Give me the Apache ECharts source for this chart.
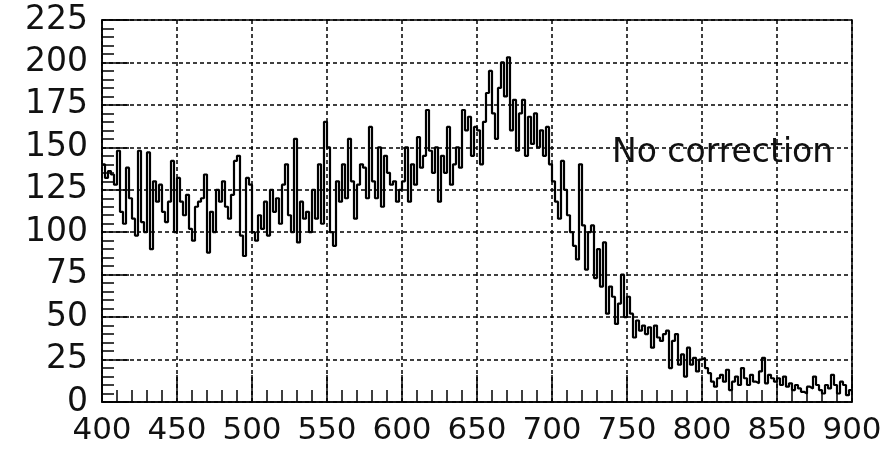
<!DOCTYPE html>
<html>
<head>
<meta charset="utf-8">
<script src="https://cdn.jsdelivr.net/npm/echarts@6/dist/echarts.min.js"></script>
<style>html,body{margin:0;padding:0;background:#fff}#c{width:888px;height:449px}</style>
</head>
<body>
<div id="c"></div>
<script>
// Histogram bins: start of each 2-unit bin from 400 to 898
const binWidth = 2;
const binStart = 400;
const counts = [
  // 400-448
  140,132,136,134,128,148,112,105,138,120,108,98,148,106,100,147,90,130,118,128,112,106,118,142,100,
  // 450-498
  132,118,110,122,102,95,115,118,120,134,88,112,100,125,118,130,115,108,122,142,145,98,86,132,128,
  // 500-548
  100,95,110,102,118,98,125,112,120,105,128,140,110,100,155,94,118,108,112,100,125,108,140,105,165,
  // 550-598
  150,100,92,130,118,140,120,155,130,108,128,140,138,120,162,130,120,150,115,145,135,128,130,118,125,
  // 600-648
  130,150,118,140,128,156,138,145,172,148,135,150,118,145,135,162,128,140,150,138,172,160,168,145,162,
  // 650-698
  160,140,165,182,195,170,155,185,200,180,203,160,178,148,170,178,145,168,152,170,150,160,145,162,140,
  // 700-748
  130,118,108,142,125,110,100,92,84,140,104,78,100,104,73,90,68,94,52,68,62,46,58,75,50,
  // 750-798
  62,52,38,48,42,45,40,44,32,45,38,36,40,42,20,36,40,22,28,15,32,22,26,18,25,
  // 800-848
  26,20,17,12,9,14,16,12,19,7,12,15,10,20,14,10,16,12,11,18,26,11,16,14,12,
  // 850-898
  14,10,15,9,11,7,10,8,6,5,9,8,15,10,7,5,10,8,16,10,5,12,10,4,7
];
const xTicks = [400,450,500,550,600,650,700,750,800,850,900];
const yTicks = [0,25,50,75,100,125,150,175,200,225];
const annotation = 'No correction';

const lineData = counts.map((v, i) => [binStart + i * binWidth, v]);
lineData.push([binStart + counts.length * binWidth, counts[counts.length - 1]]);

const chart = echarts.init(document.getElementById('c'), null, {renderer: 'canvas'});
const axisFont = 'DejaVu Sans';
chart.setOption({
  animation: false,
  backgroundColor: '#fff',
  grid: {left: 102, right: 36, top: 20, bottom: 47, show: true, borderColor: '#000', borderWidth: 1.5, backgroundColor: 'transparent'},
  xAxis: {
    type: 'value', min: xTicks[0], max: xTicks[xTicks.length - 1], interval: 50,
    axisLine: {show: true, lineStyle: {color: '#000', width: 1.5}},
    axisTick: {show: true, inside: true, length: 27, lineStyle: {color: '#000', width: 1.5}},
    minorTick: {show: true, splitNumber: 5, length: 12, lineStyle: {color: '#000', width: 1.5}},
    splitLine: {show: true, lineStyle: {color: '#000', width: 1.5, type: [4, 3]}},
    axisLabel: {color: '#111', fontFamily: axisFont, fontSize: 31, margin: 13,
      formatter: v => String(v)}
  },
  yAxis: {
    type: 'value', min: yTicks[0], max: yTicks[yTicks.length - 1], interval: 25,
    axisLine: {show: true, lineStyle: {color: '#000', width: 1.5}},
    axisTick: {show: true, inside: true, length: 27, lineStyle: {color: '#000', width: 1.5}},
    minorTick: {show: true, splitNumber: 5, length: 12, lineStyle: {color: '#000', width: 1.5}},
    splitLine: {show: true, lineStyle: {color: '#000', width: 1.5, type: [4, 3]}},
    axisLabel: {color: '#111', fontFamily: axisFont, fontSize: 33, margin: 14,
      formatter: v => String(v)}
  },
  series: [{
    type: 'line', step: 'end', data: lineData, showSymbol: false, symbol: 'none',
    lineStyle: {color: '#000', width: 2.2}, z: 5
  }],
  graphic: [{
    type: 'text', left: 612, top: 137, z: 10,
    style: {text: annotation, fill: '#111', font: '33px "DejaVu Sans"'}
  }]
});
</script>
</body>
</html>
